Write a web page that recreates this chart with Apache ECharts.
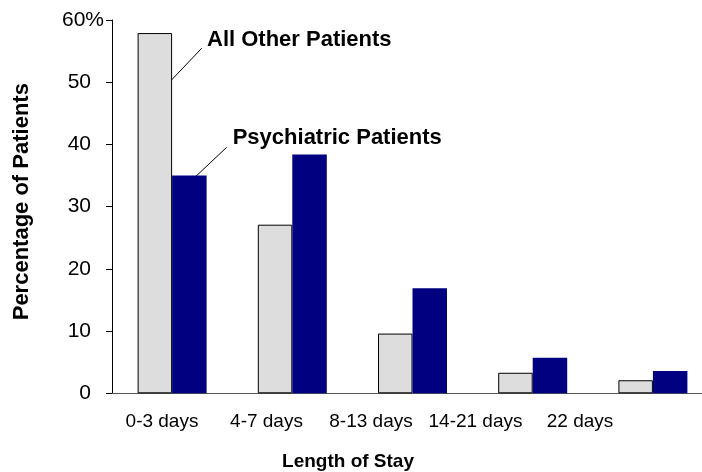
<!DOCTYPE html>
<html>
<head>
<meta charset="utf-8">
<script src="https://cdn.jsdelivr.net/npm/echarts@6/dist/echarts.min.js"></script>
<style>
  html, body { margin: 0; padding: 0; background: #fff; overflow: hidden; }
  /* plot runs slightly past the right edge of the page */
  #chart { width: 713px; height: 472px; }
</style>
</head>
<body>
<div id="chart"></div>
<script>
// Length of stay distribution, psychiatric vs. all other patients
const categories = ['0-3 days', '4-7 days', '8-13 days', '14-21 days', '22 days'];
const allOtherPatients = [57.9, 27.1, 9.6, 3.3, 2.1];
const psychiatricPatients = [35.0, 38.4, 16.9, 5.7, 3.6];
const yTicks = [0, 10, 20, 30, 40, 50, 60];

const FONT = '"Liberation Sans", Arial, sans-serif';

const chart = echarts.init(document.getElementById('chart'), null, { renderer: 'canvas' });

const option = {
  animation: false,
  backgroundColor: '#ffffff',
  textStyle: { fontFamily: FONT },
  grid: [
    { left: 112, top: 20, right: 0, height: 373.3, containLabel: false },
    // second band used only for the category captions
    { left: 109.75, top: 20, width: 522.5, height: 373.3, containLabel: false }
  ],
  xAxis: [
    {
      type: 'category',
      gridIndex: 0,
      data: categories,
      axisLine: { show: true, lineStyle: { color: '#555555', width: 1 } },
      axisTick: { show: false },
      axisLabel: { show: false }
    },
    {
      type: 'category',
      gridIndex: 1,
      data: categories,
      axisLine: { show: false },
      axisTick: { show: false },
      axisLabel: {
        show: true,
        interval: 0,
        margin: 19,
        color: '#000',
        fontSize: 19,
        fontFamily: FONT
      }
    }
  ],
  yAxis: [
    {
      type: 'value',
      gridIndex: 0,
      min: 0,
      max: 60,
      interval: 10,
      splitLine: { show: false },
      axisLine: { show: true, lineStyle: { color: '#000', width: 1 } },
      axisTick: { show: true, length: 6, lineStyle: { color: '#000' } },
      axisLabel: {
        margin: 8,
        color: '#000',
        fontSize: 21,
        fontFamily: FONT,
        formatter: function (v) {
          return v === yTicks[yTicks.length - 1] ? '{p|' + v + '%}' : '{n|' + v + '}';
        },
        rich: {
          n: { fontSize: 21, fontFamily: FONT, color: '#000', padding: [0, 13, 0, 0] },
          p: { fontSize: 21, fontFamily: FONT, color: '#000' }
        }
      }
    },
    {
      type: 'value',
      gridIndex: 1,
      min: 0,
      max: 60,
      show: false
    }
  ],
  series: [
    {
      name: 'All Other Patients',
      type: 'bar',
      xAxisIndex: 0,
      yAxisIndex: 0,
      data: allOtherPatients,
      barWidth: 34.5,
      barGap: '0%',
      itemStyle: { color: '#dddddd', borderColor: '#000000', borderWidth: 1 }
    },
    {
      name: 'Psychiatric Patients',
      type: 'bar',
      xAxisIndex: 0,
      yAxisIndex: 0,
      data: psychiatricPatients,
      barWidth: 34.5,
      barGap: '0%',
      itemStyle: { color: '#000080' }
    }
  ]
};

chart.setOption(option);

// Axis titles and leader-line callouts, anchored on the bars they point to
const px = (cat, val) => chart.convertToPixel({ gridIndex: 0 }, [cat, val]);
const p0 = px(0, 0);
const barW = 34.5;
const grayLeft = p0[0] - barW;            // left edge of first grey bar
const otherTip = px(0, 49.8);
const psychTop = px(0, psychiatricPatients[0]);

chart.setOption({
  graphic: [
    {
      type: 'text',
      x: 21.7, y: 201.7,
      rotation: Math.PI / 2,
      style: {
        text: 'Percentage of Patients',
        font: 'bold 22px ' + FONT,
        fill: '#000',
        align: 'center',
        verticalAlign: 'middle'
      }
    },
    {
      type: 'text',
      x: 348, y: 461.7,
      style: {
        text: 'Length of Stay',
        font: 'bold 19px ' + FONT,
        fill: '#000',
        align: 'center',
        verticalAlign: 'middle'
      }
    },
    {
      type: 'text',
      x: 207, y: 40,
      style: {
        text: 'All Other Patients',
        font: 'bold 22px ' + FONT,
        fill: '#000',
        align: 'left',
        verticalAlign: 'middle'
      }
    },
    {
      type: 'line',
      shape: { x1: 201.7, y1: 48.3, x2: grayLeft + 30.6, y2: otherTip[1] },
      style: { stroke: '#000', lineWidth: 1 }
    },
    {
      type: 'text',
      x: 232.7, y: 138,
      style: {
        text: 'Psychiatric Patients',
        font: 'bold 22px ' + FONT,
        fill: '#000',
        align: 'left',
        verticalAlign: 'middle'
      }
    },
    {
      type: 'line',
      shape: { x1: 226.7, y1: 147.3, x2: p0[0] + 23, y2: psychTop[1] + 1.5 },
      style: { stroke: '#000', lineWidth: 1 }
    }
  ]
});
</script>
</body>
</html>
